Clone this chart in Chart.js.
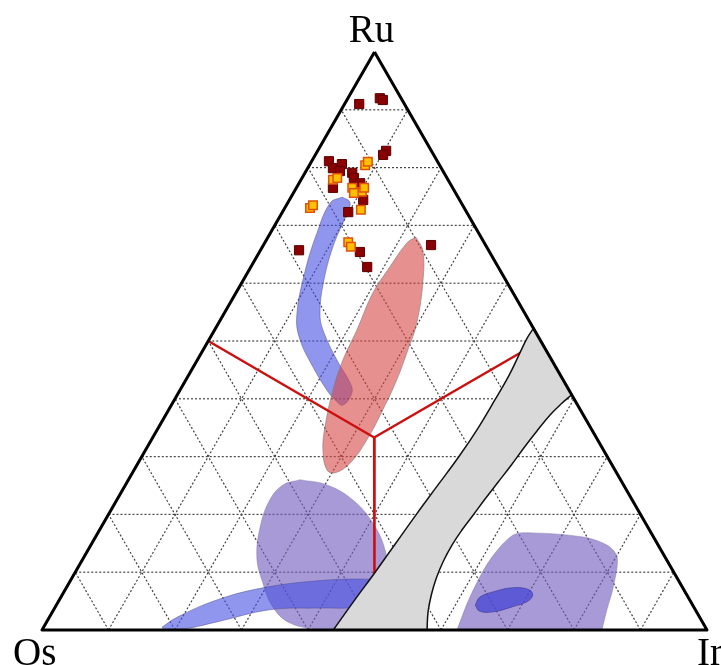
<!DOCTYPE html>
<html>
<head>
<meta charset="utf-8">
<script src="https://cdn.jsdelivr.net/npm/chart.js@4.4.0/dist/chart.umd.min.js"></script>
<style>
    body { margin: 0; background: #fff; }
    #wrap { width: 721px; height: 665px; }
</style>
</head>
<body>
<div id="wrap"><canvas id="ternary" width="721" height="665"></canvas></div>
<script>
// compositions in percent, written as [Ru, Ir] (Os is what is left)
const vertexLabels = ["Ru", "Os", "Ir"]
const gridTicks = [10, 20, 30, 40, 50, 60, 70, 80, 90]

// analysed grains
const darkRu = [91.0, 92.0, 91.7, 82.9, 82.2, 81.1, 79.9, 80.6, 79.4, 79.1, 78.2, 77.3, 76.5, 74.4, 72.3, 65.7, 65.4, 62.8, 66.6]
const darkIr = [2.2, 4.8, 5.4, 10.3, 10.2, 2.6, 3.8, 4.8, 5.1, 7.1, 7.8, 9.2, 5.5, 11.1, 9.9, 5.8, 15.1, 17.5, 25.2]
const orangeRu = [80.4, 81.0, 77.9, 78.2, 76.5, 75.8, 76.5, 73.0, 73.5, 72.7, 67.1, 66.3, 75.6]
const orangeIr = [8.4, 8.5, 4.8, 5.3, 8.4, 10.2, 10.2, 3.8, 4.0, 11.6, 12.5, 13.3, 9.1]

// field outlines (a repeated vertex keeps a sharp corner)
const blueBandTop = [[74.9, 7.7], [74.0, 9.3], [72.1, 9.8], [66.3, 10.6], [60.0, 12.3], [54.8, 14.4], [51.9, 16.3],
    [46.7, 21.0], [42.7, 25.0], [41.0, 26.1], [38.9, 25.8], [39.8, 24.2], [41.5, 22.1], [45.5, 18.0], [50.2, 13.7],
    [54.2, 11.2], [61.8, 8.6], [68.7, 7.0], [73.9, 6.4], [74.9, 7.7]]
const redField = [[68.0, 22.2], [65.7, 24.4], [60.6, 27.0], [53.1, 29.8], [48.4, 30.8], [43.3, 31.7], [38.1, 32.2],
    [32.9, 32.4], [28.9, 31.9], [27.2, 30.5], [27.7, 29.0], [31.1, 26.7], [35.1, 25.0], [41.5, 23.0], [46.7, 21.9],
    [51.9, 21.4], [58.3, 20.6], [62.8, 20.9], [67.0, 21.4], [68.0, 22.2]]
const purpleLeft = [[26.0, 25.8], [25.1, 30.3], [22.5, 35.5], [18.5, 40.5], [13.8, 44.7], [9.2, 47.3], [5.2, 48.7],
    [1.7, 48.9], [0, 47.8], [0, 47.8], [0, 41.8], [0, 41.8], [1.2, 36.7], [4.0, 32.7], [8.7, 28.7], [12.6, 26.0],
    [17.8, 23.9], [22.5, 23.0], [25.1, 23.7], [26.0, 25.8]]
const blueBandBottom = [[0.5, 17.8], [2.2, 19.2], [5.2, 23.7], [7.3, 29.6], [8.5, 37.1], [8.8, 43.9], [8.3, 48.9],
    [6.1, 51.1], [4.2, 50.2], [3.8, 44.4], [3.8, 39.5], [3.5, 32.5], [1.4, 25.6], [0.2, 21.4], [0, 18.5], [0.5, 17.8]]
const purpleRight = [[0, 62.4], [5.7, 61.5], [12.1, 61.3], [16.4, 62.6], [16.8, 65.4], [16.1, 73.3], [14.7, 77.6],
    [12.6, 80.2], [7.4, 82.2], [3.5, 83.2], [0, 84.2], [0, 84.2], [0, 62.4]]
const blueSpot = [[4.3, 63.0], [5.7, 63.0], [6.7, 64.8], [7.3, 67.0], [7.1, 69.4], [6.2, 70.7], [5.0, 70.6],
    [4.0, 68.7], [3.1, 66.1], [3.3, 64.1], [4.3, 63.0]]
const grayField = [[0, 43.8], [5.0, 44.4], [10.0, 45.1], [15.1, 45.7], [20.1, 46.3], [25.1, 47.0], [30.1, 47.7],
    [34.9, 48.1], [39.8, 48.2], [44.1, 48.2], [47.9, 47.9], [50.5, 47.7], [52.2, 47.8], [52.2, 47.8],
    [40.7, 59.3], [40.7, 59.3], [39.1, 58.5], [37.2, 57.8], [34.4, 57.2], [31.5, 56.7], [28.5, 56.3], [25.6, 55.8],
    [22.7, 55.3], [19.9, 54.9], [17.3, 54.5], [14.7, 54.3], [11.9, 54.4], [9.0, 54.8], [6.1, 55.5], [3.1, 56.5],
    [0, 57.9], [0, 57.9], [0, 43.8]]

// red dividing lines: centroid to the middle of each side
const centroid = [33.3, 33.3]
const sideMiddles = [[50, 0], [50, 50], [0, 50]]

function toXY(ru, ir) {
    return { x: ir + ru / 2, y: ru }
}

function shape(pairs, fillColor, border, width, order, tension) {
    return {
        data: pairs.map(p => toXY(p[0], p[1])),
        showLine: true,
        fill: 'shape',
        backgroundColor: fillColor,
        borderColor: border,
        borderWidth: width,
        pointRadius: 0,
        tension: tension,
        order: order,
    }
}

function segment(a, b, color, width, dash, order) {
    return {
        data: [toXY(a[0], a[1]), toXY(b[0], b[1])],
        showLine: true,
        fill: false,
        borderColor: color,
        borderWidth: width,
        borderDash: dash,
        pointRadius: 0,
        order: order,
    }
}

let datasets = []

// points on top
datasets.push({
    data: orangeRu.map((ru, i) => toXY(ru, orangeIr[i])),
    pointStyle: 'rect',
    pointRadius: 6,
    backgroundColor: '#ffc000',
    borderColor: '#e0500a',
    borderWidth: 1.5,
    order: 0,
})
datasets.push({
    data: darkRu.map((ru, i) => toXY(ru, darkIr[i])),
    pointStyle: 'rect',
    pointRadius: 6.5,
    backgroundColor: '#8b0000',
    borderColor: '#5a0000',
    borderWidth: 1,
    order: 1,
})

// triangle frame
let frame = shape([[100, 0], [0, 0], [0, 100], [100, 0]], 'rgba(0,0,0,0)', '#000', 3, 2, 0)
frame.fill = false
frame.borderJoinStyle = 'round'
datasets.push(frame)

datasets.push(shape(grayField, '#d9d9d9', '#111', 1.5, 3, 0.4))

sideMiddles.forEach(m => datasets.push(segment(centroid, m, '#cc1010', 2.5, [], 4)))

datasets.push(shape(blueSpot, 'rgba(70,70,215,0.75)', 'rgba(60,60,140,0.6)', 1, 5, 0.4))
datasets.push(shape(purpleRight, 'rgba(115,90,190,0.62)', 'rgba(120,110,160,0.4)', 1, 6, 0.3))
datasets.push(shape(blueBandBottom, 'rgba(70,80,225,0.6)', 'rgba(80,80,140,0.5)', 1, 7, 0.4))
datasets.push(shape(purpleLeft, 'rgba(115,90,190,0.62)', 'rgba(120,110,160,0.4)', 1, 8, 0.4))
datasets.push(shape(redField, 'rgba(215,70,70,0.6)', 'rgba(130,120,120,0.6)', 1, 9, 0.4))
datasets.push(shape(blueBandTop, 'rgba(70,80,225,0.6)', 'rgba(80,80,140,0.5)', 1, 10, 0.4))

// dotted grid
gridTicks.forEach(t => {
    datasets.push(segment([t, 0], [t, 100 - t], '#444', 1.2, [2, 2], 20))
    datasets.push(segment([0, t], [100 - t, t], '#444', 1.2, [2, 2], 20))
    datasets.push(segment([0, 100 - t], [100 - t, 0], '#444', 1.2, [2, 2], 20))
})

const labelPlugin = {
    id: 'vertexLabels',
    afterDraw(chart) {
        const ctx = chart.ctx
        const xs = chart.scales.x
        const ys = chart.scales.y
        ctx.save()
        ctx.font = '39px "Liberation Serif", "DejaVu Serif", serif'
        ctx.fillStyle = '#000'
        ctx.textBaseline = 'alphabetic'
        ctx.textAlign = 'center'
        ctx.fillText(vertexLabels[0], xs.getPixelForValue(50) - 3, ys.getPixelForValue(100) - 10)
        ctx.textAlign = 'left'
        ctx.fillText(vertexLabels[1], xs.getPixelForValue(0) - 29, ys.getPixelForValue(0) + 35)
        ctx.fillText(vertexLabels[2], xs.getPixelForValue(100) - 10, ys.getPixelForValue(0) + 35)
        ctx.restore()
    }
}

new Chart(document.getElementById('ternary'), {
    type: 'scatter',
    data: { datasets: datasets },
    options: {
        responsive: false,
        animation: false,
        events: [],
        layout: { padding: 0, autoPadding: false },
        plugins: { legend: { display: false }, tooltip: { enabled: false } },
        scales: {
            x: { type: 'linear', display: false, min: -6.316, max: 102.105 },
            y: { type: 'linear', display: false, min: -6.055, max: 108.997 },
        },
    },
    plugins: [labelPlugin],
})
</script>
</body>
</html>
